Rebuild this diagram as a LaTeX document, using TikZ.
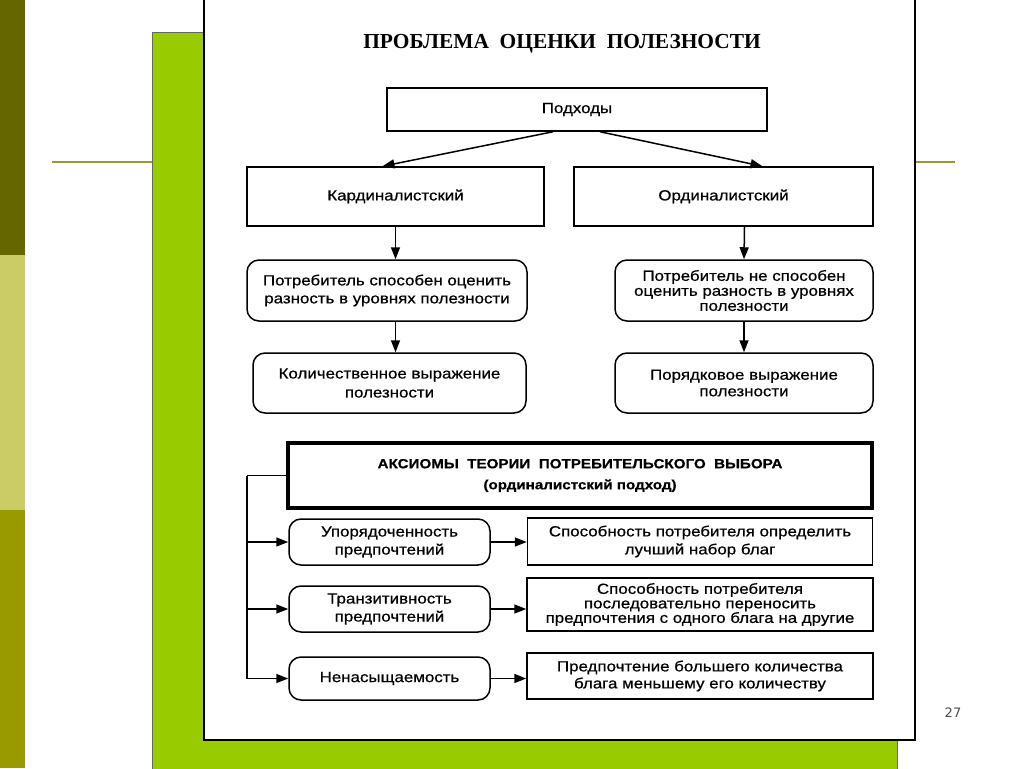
\documentclass[tikz,border=0pt]{standalone}
\usepackage{fontspec}
\setmainfont{Liberation Sans}[FakeStretch=1.15,FakeBold=0.6]
\newfontfamily\titlefont{Liberation Serif}
\newfontfamily\numfont{DejaVu Sans}
\usetikzlibrary{arrows.meta}
\definecolor{darkolive}{HTML}{666600}
\definecolor{paleolive}{HTML}{CCCC66}
\definecolor{midolive}{HTML}{999900}
\definecolor{slidegreen}{HTML}{99CC00}
\definecolor{lineolive}{HTML}{999933}
\begin{document}
\begin{tikzpicture}[x=1pt,y=-1pt,
    box/.style={draw,line width=1.5pt,align=center,font=\fontsize{14.7}{18}\selectfont,inner sep=1pt},
    rbox/.style={box,rounded corners=12pt},
    arr/.style={-{Triangle[length=12pt,width=9pt]},line width=1.5pt}]
  \useasboundingbox (0,0) rectangle (1024,768);
  \fill [white] (0,0) rectangle (1024,768);
  % slide decoration
  \fill [darkolive] (0,0) rectangle (25,255);
  \fill [paleolive] (0,255) rectangle (25,510);
  \fill [midolive] (0,510) rectangle (25,768);
  \draw [lineolive, line width=1.5pt] (52,162)--(152,162);
  \draw [lineolive, line width=1.5pt] (915,162)--(955,162);
  \fill [slidegreen, draw=black!60] (152,32) rectangle (897,772);
  \fill [white, draw=black, line width=2.5pt] (204,-5) rectangle (915,740);
  \node [text=black!70, font=\numfont\fontsize{13}{15}\selectfont] (pagenum) at (953,713) {27};
  % title
  \node [font=\titlefont\bfseries\fontsize{21.4}{24}\selectfont] (title) at (562,44) {ПРОБЛЕМА\ \ ОЦЕНКИ\ \ ПОЛЕЗНОСТИ};
  % approaches
  \node [box, minimum width=380pt, minimum height=43pt] (appr) at (577,109.5) {Подходы};
  \node [box, minimum width=297pt, minimum height=59pt] (card) at (395.5,196.5) {Кардиналистский};
  \node [box, minimum width=299pt, minimum height=59pt] (ord) at (723.5,196.5) {Ординалистский};
  \node [rbox, minimum width=280pt, minimum height=61pt] (cardable) at (387,290.5) {Потребитель способен оценить\\разность в уровнях полезности};
  \node [rbox, minimum width=273pt, minimum height=60pt, font=\fontsize{14.7}{19}\selectfont] (cardexpr) at (389.5,383) {Количественное выражение\\полезности};
  \node [rbox, minimum width=258pt, minimum height=61pt, font=\fontsize{14.7}{15}\selectfont] (ordable) at (744,290.5) {Потребитель не способен\\оценить разность в уровнях\\полезности};
  \node [rbox, minimum width=258pt, minimum height=60pt, font=\fontsize{14.7}{16.5}\selectfont] (ordexpr) at (744,383) {Порядковое выражение\\полезности};
  \draw [arr] ([xshift=-24pt]appr.south)--([xshift=-13pt]card.north);
  \draw [arr] ([xshift=23pt]appr.south)--([xshift=39pt]ord.north);
  \draw [arr] (card.south)--(card.south |- cardable.north);
  \draw [arr] (card.south |- cardable.south)--(card.south |- cardexpr.north);
  \draw [arr] ([xshift=21pt]ord.south)--(ordable.north);
  \draw [arr] (ordable.south)--(ordexpr.north);
  % axioms
  \node [box, line width=4pt, minimum width=584pt, minimum height=65pt, font=\bfseries\fontsize{13.2}{21}\selectfont] (axioms) at (580,475.5) {АКСИОМЫ\ \ ТЕОРИИ\ \ ПОТРЕБИТЕЛЬСКОГО\ \ ВЫБОРА\\(ординалистский подход)};
  \node [rbox, minimum width=201pt, minimum height=46pt] (order) at (389.5,542) {Упорядоченность\\предпочтений};
  \node [rbox, minimum width=201pt, minimum height=46pt] (trans) at (389.5,609) {Транзитивность\\предпочтений};
  \node [rbox, minimum width=201pt, minimum height=43pt] (nonsat) at (389.5,678.5) {Ненасыщаемость};
  \node [box, minimum width=345pt, minimum height=47pt] (orderdesc) at (700,541.5) {Способность потребителя определить\\лучший набор благ};
  \node [box, minimum width=346pt, minimum height=53pt, font=\fontsize{14.7}{14.5}\selectfont] (transdesc) at (700,604.5) {Способность потребителя\\последовательно переносить\\предпочтения с одного блага на другие};
  \node [box, minimum width=346pt, minimum height=46pt, font=\fontsize{14.7}{17}\selectfont] (nonsatdesc) at (700,676) {Предпочтение большего количества\\блага меньшему его количеству};
  \coordinate (trunk) at (247,475.5);
  \draw [line width=1.5pt] (axioms.west)--(trunk);
  \draw [line width=1.5pt] (trunk)--(trunk |- nonsat.west);
  \draw [arr] (trunk) |- (order.west);
  \draw [arr] (trunk) |- (trans.west);
  \draw [arr] (trunk) |- (nonsat.west);
  \draw [arr] (order.east)--(order.east -| orderdesc.west);
  \draw [arr] (trans.east)--(trans.east -| transdesc.west);
  \draw [arr] (nonsat.east)--(nonsat.east -| nonsatdesc.west);
\end{tikzpicture}
\end{document}
